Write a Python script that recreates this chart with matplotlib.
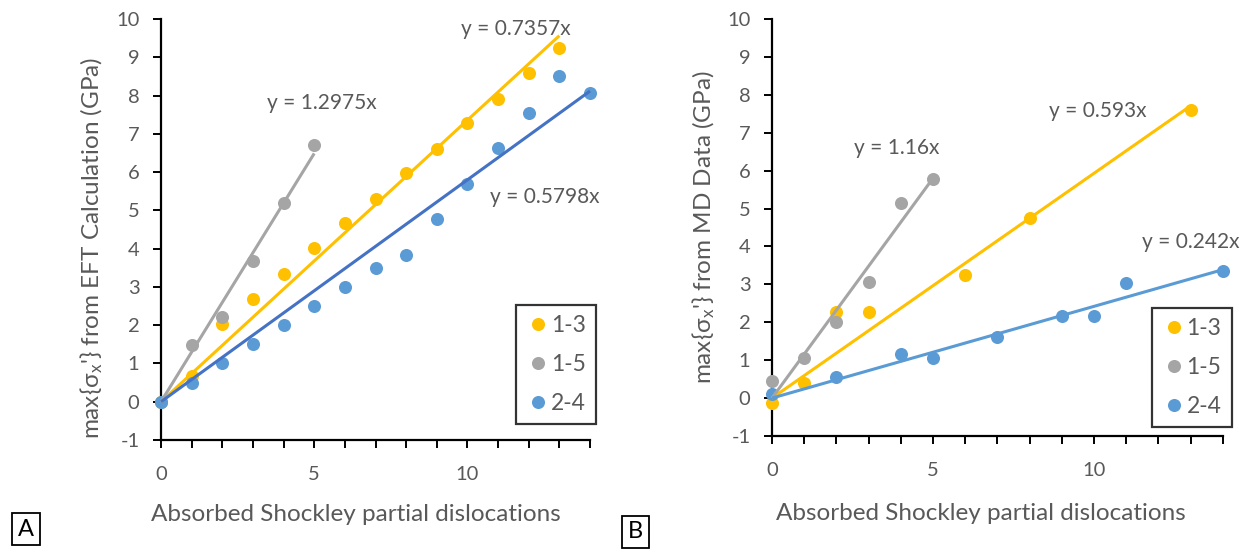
import matplotlib
matplotlib.use("Agg")
import matplotlib.pyplot as plt
from matplotlib.ticker import FixedLocator

plt.rcParams['font.family'] = ['Lato', 'DejaVu Sans']
plt.rcParams['mathtext.fontset'] = 'custom'
plt.rcParams['mathtext.rm'] = 'Lato'
plt.rcParams['mathtext.it'] = 'Lato'
plt.rcParams['axes.unicode_minus'] = False

# panel A: EFT calculation
a13_x = [0, 1, 2, 3, 4, 5, 6, 7, 8, 9, 10, 11, 12, 13]
a13_y = [0, 0.68, 2.03, 2.69, 3.35, 4.02, 4.66, 5.30, 5.97, 6.61, 7.27, 7.92, 8.58, 9.23]
a15_x = [0, 1, 2, 3, 4, 5]
a15_y = [0, 1.48, 2.22, 3.69, 5.18, 6.70]
a24_x = [0, 1, 2, 3, 4, 5, 6, 7, 8, 9, 10, 11, 12, 13, 14]
a24_y = [0, 0.50, 1.00, 1.50, 2.00, 2.49, 3.00, 3.49, 3.83, 4.77, 5.70, 6.64, 7.55, 8.50, 8.07]
a_slopes = [0.7357, 1.2975, 0.5798]

# panel B: MD data
b13_x = [0, 1, 2, 3, 6, 8, 13]
b13_y = [-0.13, 0.40, 2.28, 2.28, 3.26, 4.75, 7.59]
b15_x = [0, 1, 2, 3, 4, 5]
b15_y = [0.44, 1.07, 2.00, 3.05, 5.14, 5.78]
b24_x = [0, 2, 4, 5, 7, 9, 10, 11, 14]
b24_y = [0.11, 0.56, 1.16, 1.05, 1.60, 2.17, 2.16, 3.03, 3.36]
b_slopes = [0.593, 1.16, 0.242]

series_names = ['1-3', '1-5', '2-4']
x_ticks = [0, 1, 2, 3, 4, 5, 6, 7, 8, 9, 10, 11, 12, 13, 14]
x_ticklabels = ['0', '', '', '', '', '5', '', '', '', '', '10', '', '', '', '']
y_ticks = [-1, 0, 1, 2, 3, 4, 5, 6, 7, 8, 9, 10]

c_yellow = '#FFC000'
c_gray = '#A5A5A5'
c_blue = '#5B9BD5'
c_text = '#595959'

fig = plt.figure(figsize=(12.49, 5.52), dpi=100)
ax_a = fig.add_axes([161/1249, 1-440/552, 429/1249, 421/552])
ax_b = fig.add_axes([772/1249, 1-436/552, 450.8/1249, 417/552])


def draw_panel(ax, xs, ys, slopes, trend_colors, eq_pos, ylabel, label_coords, leg_anchor):
    colors = [c_yellow, c_gray, c_blue]
    for x, y, c, name in zip(xs, ys, colors, series_names):
        ax.plot(x, y, 'o', ls='none', color=c, ms=9.4, mec='none', label=name, clip_on=False, zorder=3)
    # trendlines through the origin, drawn over the markers
    for x, s, c in zip(xs, slopes, trend_colors):
        xe = [0, max(x)]
        ax.plot(xe, [0, s * max(x)], color=c, lw=2.2, solid_capstyle='butt', clip_on=False, zorder=4)
    for s, (tx, ty) in zip(slopes, eq_pos):
        ax.text(tx, ty, f'y = {s:g}x', ha='center', va='center', fontsize=15, color=c_text)

    ax.set_xlim(0, 14)
    ax.set_ylim(-1, 10)
    ax.xaxis.set_major_locator(FixedLocator(x_ticks))
    ax.set_xticklabels(x_ticklabels)
    ax.set_yticks(y_ticks)
    for sp in ['top', 'right']:
        ax.spines[sp].set_visible(False)
    for sp in ['left', 'bottom']:
        ax.spines[sp].set_linewidth(1.6)
        ax.spines[sp].set_color('black')
    ax.tick_params(axis='both', direction='out', length=5.5, width=1.4, color='black',
                   labelsize=14.5, labelcolor=c_text)
    ax.tick_params(axis='x', pad=13)
    ax.tick_params(axis='y', pad=10)

    ax.set_ylabel(ylabel, fontsize=17.5, color=c_text, va='center')
    ax.yaxis.set_label_coords(*label_coords[0])
    ax.set_xlabel('Absorbed Shockley partial dislocations', fontsize=17.5, color=c_text, va='center')
    ax.xaxis.set_label_coords(*label_coords[1])

    leg = ax.legend(loc='upper right', bbox_to_anchor=leg_anchor, bbox_transform=fig.transFigure,
                    borderaxespad=0, fontsize=16.5, frameon=True, fancybox=False,
                    labelspacing=0.78, handletextpad=0.05, handlelength=1.0,
                    borderpad=0.45, labelcolor=c_text, markerscale=1.0)
    leg.get_frame().set_edgecolor('black')
    leg.get_frame().set_linewidth(1.6)


draw_panel(ax_a, [a13_x, a15_x, a24_x], [a13_y, a15_y, a24_y], a_slopes,
           [c_yellow, c_gray, '#4472C4'],
           [(11.57, 9.74), (5.24, 7.80), (12.53, 5.36)],
           "max{σ$_\\mathregular{x}$'} from EFT Calculation (GPa)",
           [(-0.16, 0.456), (0.4545, -0.176)],
           (596/1249, 1-305/552))

draw_panel(ax_b, [b13_x, b15_x, b24_x], [b13_y, b15_y, b24_y], b_slopes,
           [c_yellow, c_gray, c_blue],
           [(10.13, 7.56), (3.87, 6.60), (13.0, 4.12)],
           "max{σ$_\\mathregular{x}$'} from MD Data (GPa)",
           [(-0.152, 0.5), (0.463, -0.187)],
           (1231.7/1249, 1-307.6/552))

# panel letters
box = dict(boxstyle='square,pad=0.25', fc='white', ec='black', lw=1.3)
fig.text(25.8/1249, 1-529/552, 'A', ha='center', va='center', fontsize=17, color='black', bbox=box)
fig.text(635.7/1249, 1-532/552, 'B', ha='center', va='center', fontsize=17, color='black', bbox=box)

fig.savefig('out.png', dpi=100)
